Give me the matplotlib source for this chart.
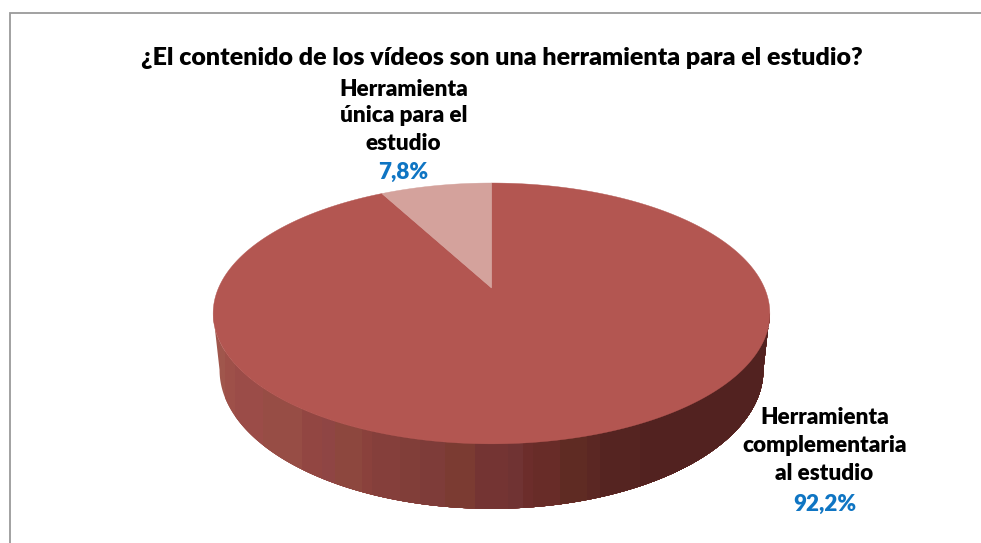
import numpy as np
import matplotlib
matplotlib.use("Agg")
import matplotlib.pyplot as plt
from matplotlib.patches import Polygon

titulo = "¿El contenido de los vídeos son una herramienta para el estudio?"
categorias = ["Herramienta\ncomplementaria\nal estudio", "Herramienta\núnica para el\nestudio"]
valores = [92.2, 7.8]
etiquetas = ["92,2%", "7,8%"]
colores = ["#B35651", "#D4A29C"]

# bandas de sombreado del lateral: limite izquierdo en x y color
bandas_x = [205, 225, 235, 263, 302, 322, 335, 362, 372, 400, 420, 445, 475, 508, 523, 533, 560, 587, 600, 640]
bandas_color = ["#A0564C", "#9E5049", "#9B4C48", "#974D45", "#924642", "#8F4544", "#8D473E", "#8A413C",
                "#853F3B", "#813E39", "#7E3C39", "#7B3B32", "#743433", "#703333", "#6C2D2B", "#682C28",
                "#5F2B23", "#5B2723", "#552421", "#522220"]

cx, cy_frente = 491.5, 313.4
k, a, b, c = 273.0, -69.3, 288.0, 0.195


def proyectar(ang):
    # ang en grados, horario desde arriba; perspectiva de la cara superior
    u = np.sin(np.radians(ang))
    v = np.cos(np.radians(ang))
    w = 1 + c * v
    return cx + k * u / w, (a * v + b) / w


def proyectar_base(ang):
    x, y = proyectar(ang)
    return cx + 0.977 * (x - cx), 370 + 1.064 * (y - cy_frente)


fig = plt.figure(figsize=(9.81, 5.43), dpi=100)
ax = fig.add_axes([0, 0, 1, 1])
ax.set_xlim(0, 981)
ax.set_ylim(543, 0)
ax.axis("off")

# marco, solo lados izquierdo y superior
ax.plot([10, 10, 981], [543, 12.5, 12.5], color="#9A9A9A", lw=1.3, solid_joinstyle="miter")

# lateral: bandas verticales recortadas con el contorno del disco
angs_lat = np.linspace(101.2, 258.8, 400)
xs_sup, ys_sup = proyectar(angs_lat)
xs_inf, ys_inf = proyectar_base(angs_lat[::-1])
contorno = Polygon(list(zip(xs_sup, ys_sup)) + list(zip(xs_inf, ys_inf)), facecolor="none", edgecolor="none")
ax.add_patch(contorno)
for xb, col in zip(bandas_x, bandas_color):
    franja = ax.fill_between([xb, 790], 250, 530, color=col, lw=0)
    franja.set_clip_path(contorno)

# cara superior, porciones en sentido horario desde arriba
inicio = 0.0
for valor, color in zip(valores, colores):
    fin = inicio + valor / sum(valores) * 360
    angs = np.linspace(inicio, fin, 400)
    xs, ys = proyectar(angs)
    pts = [(cx, b)] + list(zip(xs, ys))
    ax.add_patch(Polygon(pts, facecolor=color, edgecolor=color, lw=0.3))
    inicio = fin

fuente = "Lato"
ax.text(502, 58, titulo, ha="center", va="center", fontsize=18.0, fontweight="heavy", family=fuente, color="black")

pos_etiquetas = [(824.5, [417, 445, 473], 504), (403.5, [89, 116, 144], 172)]
for cat, etq, (xt, ys_t, y_v) in zip(categorias, etiquetas, pos_etiquetas):
    for linea, yt in zip(cat.split("\n"), ys_t):
        ax.text(xt, yt, linea, ha="center", va="center", fontsize=16.2, fontweight="heavy", family=fuente, color="black")
    ax.text(xt, y_v, etq, ha="center", va="center", fontsize=16.2, fontweight="heavy", family=fuente, color="#0F75C3")

fig.savefig("out.png", dpi=100)
